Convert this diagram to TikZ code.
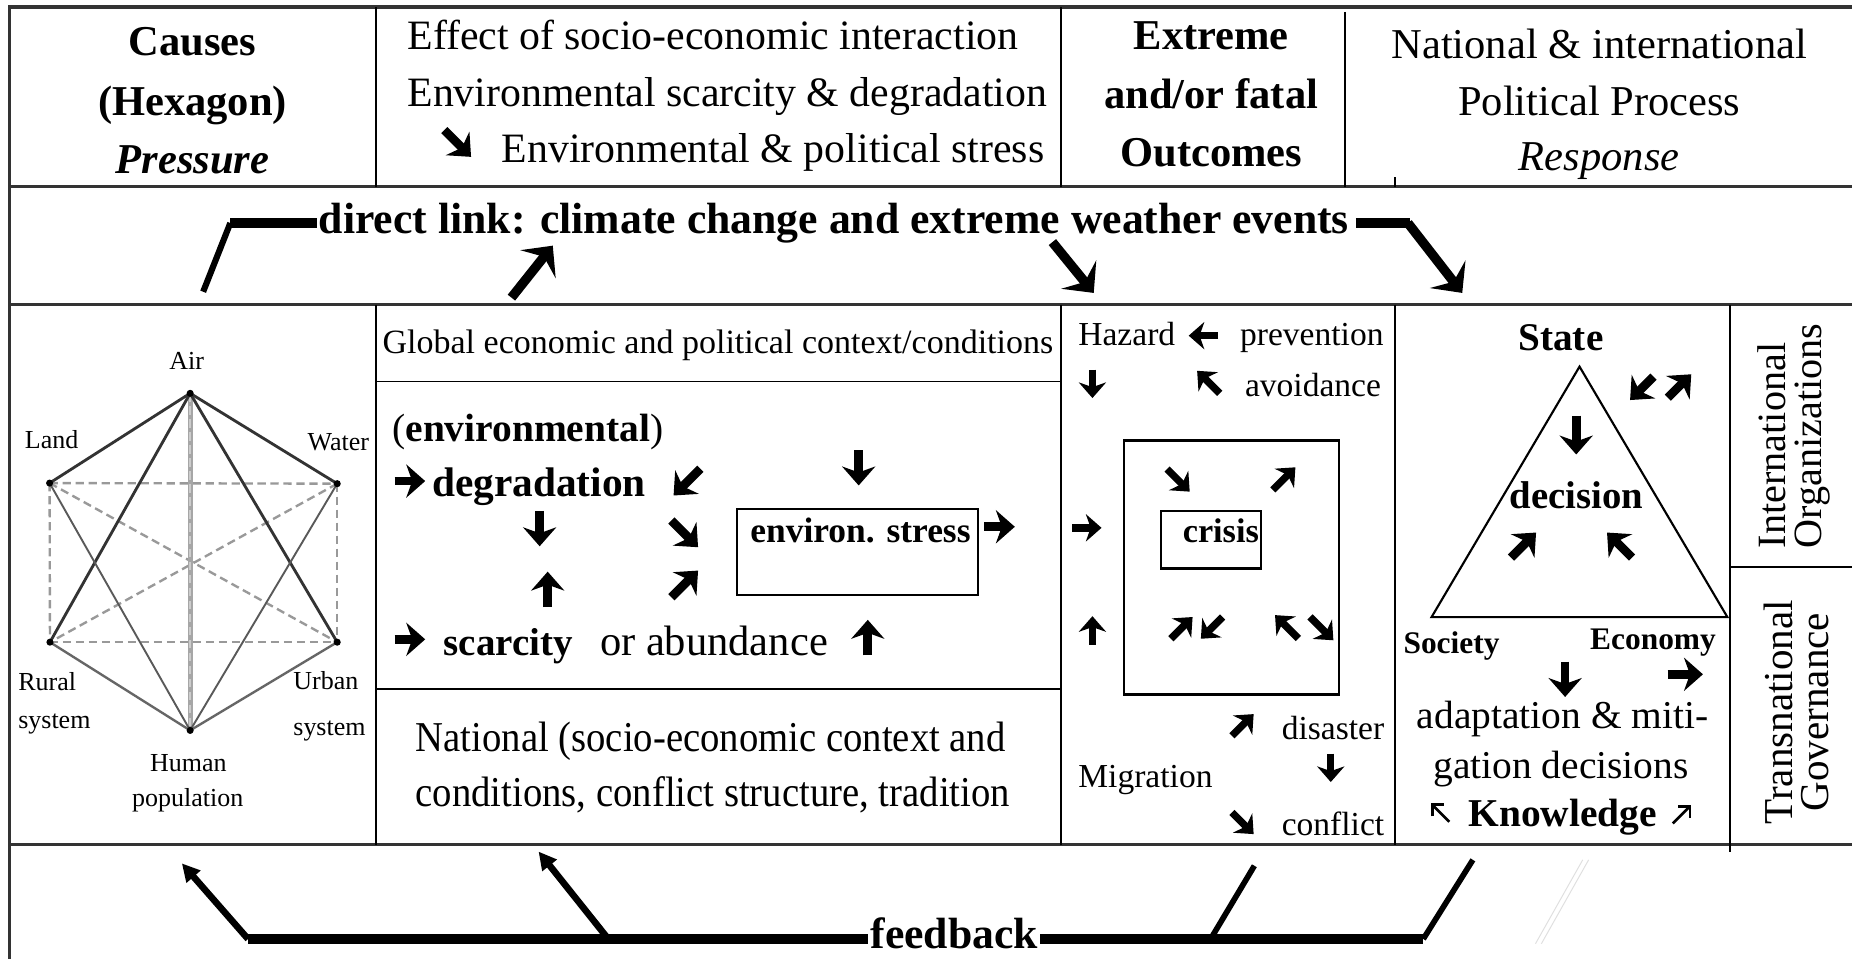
\documentclass[tikz,border=0pt]{standalone}
\usepackage{fontspec}
\setmainfont{Liberation Serif}
\newfontfamily\condfont{Liberation Serif}[FakeStretch=0.91]
\usetikzlibrary{arrows.meta}
\newcommand\fsz[1]{\fontsize{#1pt}{#1pt}\selectfont}
\newcommand\garr[4][glyph]{\draw[#1] (#2) ++(#3+180:#4/2) -- ++(#3:#4);}
\begin{document}
\begin{tikzpicture}[x=0.5pt,y=-0.5pt,
  every node/.style={inner sep=0pt,outer sep=0pt},
  rowline/.style={line width=1.4pt,black!80},
  colline/.style={line width=0.8pt,black},
  boxline/.style={line width=1pt,black},
  triline/.style={line width=0.9pt,black},
  glyph/.style={line width=3.7pt,-{Stealth[length=8pt,width=14pt,inset=2.5pt]}},
  sglyph/.style={line width=3.1pt,-{Stealth[length=6.6pt,width=11.5pt,inset=2pt]}},
  thinarr/.style={line width=1.1pt,-{Straight Barb[length=3.5pt,width=7pt]}},
  bigarrow/.style={line width=4pt,-{Stealth[length=10pt,width=19pt,inset=4pt]}},
  hbar/.style={line width=4.2pt},
  slantbar/.style={line width=2.6pt},
  fbbar/.style={line width=4.5pt},
  fbarrow/.style={line width=2.8pt,-{Triangle[length=7.5pt,width=7.5pt]}},
  fbline/.style={line width=2.4pt},
  hexl/.style={font=\fsz{11}},
  hdr/.style={font=\fsz{18}},
  hdrb/.style={font=\bfseries\fsz{18}},
  dashl/.style={gray!80,line width=1pt,dash pattern=on 3.5pt off 2pt},
  c3/.style={font=\fsz{14.2},anchor=base west},
  c4/.style={font=\fsz{16.7},anchor=base}
]
\useasboundingbox (0,0) rectangle (1568,812);
\fill[white] (0,0) rectangle (1568,812);

% ---------- frame ----------
\draw[rowline] (1568,6) -- (8,6) -- (8,812);
\draw[rowline] (8,158) -- (1568,158);
\draw[rowline] (8,258) -- (1568,258);
\draw[rowline] (8,715) -- (1568,715);
\draw[colline] (318,6) -- (318,158);
\draw[colline] (898,6) -- (898,158);
\draw[colline] (1139,10) -- (1139,158);
\draw[colline] (1181,150) -- (1181,158);
\draw[colline] (318,258) -- (318,715);
\draw[colline] (898,258) -- (898,715);
\draw[colline] (1181,258) -- (1181,715);
\draw[colline] (1465,258) -- (1465,721);
\draw[colline] (318,323) -- (898,323);
\draw[colline] (318,583.6) -- (898,583.6);
\draw[colline] (1465,480) -- (1568,480);

% ---------- header ----------
\node[hdrb,anchor=base] (hc1) at (163,46.6) {Causes};
\node[hdrb,anchor=base] (hc2) at (163,97.4) {(Hexagon)};
\node[font=\bfseries\itshape\fsz{18},anchor=base] (hc3) at (163,146.8) {Pressure};
\node[font=\fsz{17.7},anchor=base west] (e1) at (345,42.3) {Effect of socio-economic interaction};
\node[font=\fsz{17.7},anchor=base west] (e2) at (345,89.8) {Environmental scarcity \& degradation};
\garr{387.5,121.5}{45}{32}
\node[font=\fsz{17.7},anchor=base west] (e3) at (425,137.7) {Environmental \& political stress};
\node[hdrb,anchor=base] (x1) at (1025.5,42.3) {Extreme};
\node[hdrb,anchor=base] (x2) at (1025.5,91.7) {and/or fatal};
\node[hdrb,anchor=base] (x3) at (1025.5,141) {Outcomes};
\node[hdr,anchor=base] (n1) at (1354,49.4) {National \& international};
\node[hdr,anchor=base] (n2) at (1354,97.4) {Political Process};
\node[font=\itshape\fsz{18},anchor=base] (n3) at (1354,144) {Response};

% ---------- direct link row ----------
\node[font=\bfseries\fsz{18.5},anchor=base west] (dl) at (270,197.6) {direct link: climate change and extreme weather events};
\coordinate (dlA) at (172,247);
\coordinate (dlB) at (195,190.6);
\coordinate (ua1) at (433,252);
\coordinate (ua2) at (468,208);
\coordinate (da1) at (891,205);
\coordinate (da2) at (926,248);
\coordinate (drB) at (1194,190.6);
\coordinate (drC) at (1238,248);
\draw[slantbar] (dlA) -- (dlB |- dl.west);
\draw[hbar] (dlB |- dl.west) -- ([xshift=-1pt]dl.west);
\draw[bigarrow] (ua1) -- (ua2);
\draw[bigarrow] (da1) -- (da2);
\draw[hbar,line join=miter] ([xshift=3pt]dl.east) -- (drB |- dl.east);
\draw[bigarrow] ([xshift=-1pt]drB |- dl.east) -- (drC);

% ---------- hexagon ----------
\coordinate (air) at (161,333);
\coordinate (land) at (42,409);
\coordinate (water) at (285.5,409.5);
\coordinate (rural) at (42.3,543.7);
\coordinate (urban) at (285.5,543.7);
\coordinate (human) at (161,618.4);
\draw[dashl] (land) -- (water);
\draw[dashl] (land) -- (rural);
\draw[dashl] (land) -- (urban);
\draw[dashl] (water) -- (rural);
\draw[dashl] (water) -- (urban);
\draw[dashl] (rural) -- (urban);
\draw[gray!70,line width=2.2pt] (air) -- (human);
\draw[dashl,gray!40,line width=1pt] (air) -- (human);
\draw[black!80,line width=1.2pt] (air) -- (land);
\draw[black!80,line width=1.2pt] (air) -- (water);
\draw[black!80,line width=1.2pt] (air) -- (rural);
\draw[black!80,line width=1.2pt] (air) -- (urban);
\draw[black!65,line width=0.8pt] (land) -- (human);
\draw[black!65,line width=0.8pt] (water) -- (human);
\draw[black!60,line width=1pt] (rural) -- (human);
\draw[black!60,line width=1pt] (urban) -- (human);
\foreach \p in {air,land,water,rural,urban,human} \fill (\p) circle[radius=1.5pt];
\node[hexl,anchor=base] (lair) at (158,313) {Air};
\node[hexl,anchor=base] (lland) at (43.7,379.5) {Land};
\node[hexl,anchor=base] (lwater) at (286.5,381) {Water};
\node[hexl,anchor=base west] (lrural1) at (15.5,585) {Rural};
\node[hexl,anchor=base west] (lrural2) at (15.5,617) {system};
\node[hexl,anchor=base west] (lurban1) at (248.4,583.6) {Urban};
\node[hexl,anchor=base west] (lurban2) at (248.4,623) {system};
\node[hexl,anchor=base] (lhum1) at (159.5,653) {Human};
\node[hexl,anchor=base] (lhum2) at (159,683) {population};

% ---------- column 2 ----------
\node[font=\fsz{14.4},anchor=base west] (glob) at (323.9,299.4) {Global economic and political context/conditions};
\node[font=\fsz{16.7},anchor=base west] (envl) at (332.2,373.5) {(\textbf{environmental})};
\garr{347,407.3}{0}{26}
\node[font=\bfseries\fsz{17.5},anchor=base west] (degr) at (366,420.3) {degradation};
\garr{581.6,408.2}{135}{32}
\garr{727,396}{90}{30}
\draw[boxline] (624,431) rectangle (828,503.5);
\node[font=\bfseries\fsz{15},anchor=base west] (stress) at (635.3,459.6) {environ. stress};
\garr{846.2,446}{0}{26}
\garr{456.9,447.5}{90}{30}
\garr{579.7,452}{45}{32}
\garr{463.7,499}{-90}{30}
\garr{579.7,494.4}{-45}{32}
\garr{347,541.3}{0}{26}
\node[font=\bfseries\fsz{16.5},anchor=base west] (scar) at (375.7,554.9) {scarcity};
\node[font=\fsz{18},anchor=base west] (abund) at (508,555) {or abundance};
\garr{734.7,539.8}{-90}{30}
\node[font=\condfont\fsz{18},anchor=base west] (nat1) at (352,636.5) {National (socio-economic context and};
\node[font=\condfont\fsz{18},anchor=base west] (nat2) at (352,683) {conditions, conflict structure, tradition};

% ---------- column 3 ----------
\node[c3] (haz) at (913,292.7) {Hazard};
\garr[sglyph]{1018.9,284.2}{180}{25}
\node[c3] (prev) at (1049.9,292.7) {prevention};
\garr[sglyph]{924.9,325}{90}{24}
\garr[sglyph]{1023.1,323.5}{-135}{27}
\node[c3] (avoid) at (1054.1,335.6) {avoidance};
\draw[boxline] (951.7,372.8) rectangle (1133.7,588.1);
\garr[sglyph]{920.1,446.9}{0}{25}
\garr[sglyph]{997.7,406.7}{45}{27}
\garr[sglyph]{1087.2,405.2}{-45}{27}
\draw[boxline] (983,432.4) rectangle (1067.7,481.4);
\node[font=\bfseries\fsz{14.5},anchor=base west] (crisis) at (1001.4,459.6) {crisis};
\garr[sglyph]{924.9,533.7}{-90}{24}
\garr[sglyph]{1000.5,531.6}{-45}{26}
\garr[sglyph]{1025.9,531.6}{135}{26}
\garr[sglyph]{1089.4,530.7}{-135}{28}
\garr[sglyph]{1119,532.2}{45}{28}
\garr[sglyph]{1052.2,613.8}{-45}{26}
\node[c3] (dis) at (1085.2,625.9) {disaster};
\node[c3] (mig) at (913,666.8) {Migration};
\garr[sglyph]{1126.7,650.1}{90}{24}
\garr[sglyph]{1052.2,697}{45}{26}
\node[c3] (confl) at (1085.2,707.6) {conflict};

% ---------- column 4 ----------
\node[font=\bfseries\fsz{16.6},anchor=base] (state) at (1321.6,296.6) {State};
\coordinate (tA) at (1337.3,310.4);
\coordinate (tL) at (1212,522.5);
\coordinate (tR) at (1462.5,522.5);
\draw[triline] (tA) -- (tL) -- (tR) -- cycle;
\garr{1390,328.8}{135}{28}
\garr{1422,326.8}{-45}{28}
\garr{1334.5,368.3}{90}{33}
\node[font=\bfseries\fsz{16.4},anchor=base] (dec) at (1334.5,430.4) {decision};
\garr{1289.9,461.5}{-45}{30}
\garr{1371.2,461.5}{-135}{30}
\node[font=\bfseries\fsz{13.3},anchor=base west] (soc) at (1188.3,553.4) {Society};
\node[font=\bfseries\fsz{13.3},anchor=base west] (eco) at (1346.3,550.3) {Economy};
\garr{1325.1,575.1}{90}{30}
\garr{1426.8,570.9}{0}{30}
\node[c4] (ad1) at (1323,616.9) {adaptation \& miti-};
\node[c4] (ad2) at (1321.6,659.2) {gation decisions};
\node[c4,font=\bfseries\fsz{16.7}] (know) at (1323,700) {Knowledge};
\garr[thinarr]{1219.3,688}{-135}{22}
\garr[thinarr]{1424,689.4}{-45}{22}

% ---------- column 5 ----------
\node[rotate=90,anchor=west,align=left,font=\fontsize{17pt}{15.3pt}\selectfont] (io) at (1519,464) {International\\Organizations};
\node[rotate=90,align=center,font=\fontsize{17.4pt}{15.5pt}\selectfont] (tg) at (1521,603) {Transnational\\Governance};

% ---------- feedback row ----------
\node[font=\bfseries\fsz{18.5},anchor=base] (fb) at (808,803) {feedback};
\coordinate (fbL) at (210,795);
\coordinate (fbM) at (515,795);
\coordinate (fbN) at (1025,795);
\coordinate (fbR) at (1205,795);
\coordinate (fbLt) at (154,731);
\coordinate (fbMt) at (456,721);
\coordinate (fbNt) at (1062,733);
\coordinate (fbRt) at (1247,728);
\draw[fbbar] (fbL) -- ([xshift=-1pt]fb.west |- fbL);
\draw[fbbar] ([xshift=1pt]fb.east |- fbR) -- (fbR);
\draw[fbarrow] (fbL) -- (fbLt);
\draw[fbarrow] (fbM) -- (fbMt);
\draw[fbline] (fbN) -- (fbNt);
\draw[fbline] (fbR) -- (fbRt);
\coordinate (fa1) at (1340,728);
\coordinate (fa2) at (1300,799);
\draw[gray!25,line width=0.4pt] (fa1) -- (fa2);
\draw[gray!25,line width=0.4pt] ([xshift=2.5pt]fa1) -- ([xshift=2.5pt]fa2);
\end{tikzpicture}
\end{document}
